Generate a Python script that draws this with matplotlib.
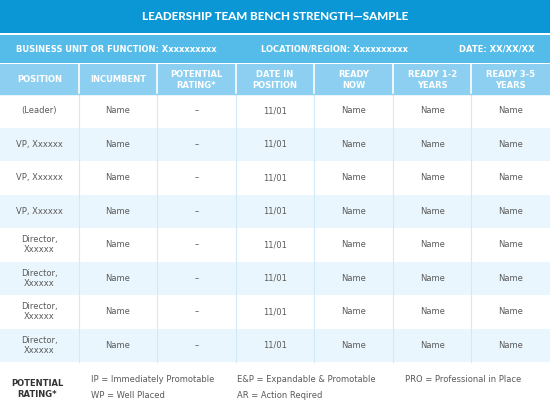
import matplotlib
matplotlib.use("Agg")
import matplotlib.pyplot as plt
from matplotlib.patches import Rectangle

# table content
title = "LEADERSHIP TEAM BENCH STRENGTH\u2014SAMPLE"
info = ["BUSINESS UNIT OR FUNCTION: Xxxxxxxxxx", "LOCATION/REGION: Xxxxxxxxxx", "DATE: XX/XX/XX"]
headers = ["POSITION", "INCUMBENT", "POTENTIAL\nRATING*", "DATE IN\nPOSITION",
           "READY\nNOW", "READY 1-2\nYEARS", "READY 3-5\nYEARS"]
positions = ["(Leader)", "VP, Xxxxxx", "VP, Xxxxxx", "VP, Xxxxxx",
             "Director,\nXxxxxx", "Director,\nXxxxxx", "Director,\nXxxxxx", "Director,\nXxxxxx"]
incumbents = ["Name"] * 8
ratings = ["\u2013"] * 8
dates = ["11/01"] * 8
ready_now = ["Name"] * 8
ready_12 = ["Name"] * 8
ready_35 = ["Name"] * 8
legend_label = "POTENTIAL\nRATING*"
legend_items = [["IP = Immediately Promotable", "WP = Well Placed"],
                ["E&P = Expandable & Promotable", "AR = Action Reqired"],
                ["PRO = Professional in Place", ""]]

W, H = 550, 409
fig = plt.figure(figsize=(5.5, 4.09), dpi=100)
ax = fig.add_axes([0, 0, 1, 1])
ax.set_xlim(0, W)
ax.set_ylim(H, 0)
ax.axis("off")

dark = "#0B97D6"
mid = "#55BCEA"
light = "#8DCFF1"
stripe = "#EAF6FD"
grid = "#D3E9F7"
txt = "#5a5a5a"

# title bar
ax.add_patch(Rectangle((0, 0), W, 33, color=dark, lw=0))
ax.text(W / 2, 17, title, color="white", fontsize=8.4, fontweight="black",
        family="Lato", ha="center", va="center")

# info bar
ax.add_patch(Rectangle((0, 35), W, 28, color=mid, lw=0))
ax.text(16, 49.5, info[0], color="white", fontsize=6.0, fontweight="bold", ha="left", va="center")
ax.text(261, 49.5, info[1], color="white", fontsize=6.0, fontweight="bold", ha="left", va="center")
ax.text(535, 49.5, info[2], color="white", fontsize=6.0, fontweight="bold", ha="right", va="center")

# header row
ncol = len(headers)
cw = W / ncol
hy0, hy1 = 64, 94
ax.add_patch(Rectangle((0, hy0), W, hy1 - hy0, color=light, lw=0))
for i, h in enumerate(headers):
    ax.text(cw * (i + 0.5), (hy0 + hy1) / 2 + 1, h, color="white", fontsize=6,
            fontweight="bold", ha="center", va="center", linespacing=1.2)
for i in range(1, ncol):
    ax.plot([cw * i, cw * i], [hy0, hy1], color="white", lw=1.2)

# data rows
columns = [positions, incumbents, ratings, dates, ready_now, ready_12, ready_35]
nrow = len(positions)
ry0 = 94
rh = (362 - ry0) / nrow
for r in range(nrow):
    y = ry0 + r * rh
    if r % 2 == 1:
        ax.add_patch(Rectangle((0, y), W, rh, color=stripe, lw=0))
    for c, col in enumerate(columns):
        ax.text(cw * (c + 0.5), y + rh / 2, col[r], color=txt, fontsize=6,
                ha="center", va="center", linespacing=1.2)
for i in range(1, ncol):
    ax.plot([cw * i, cw * i], [ry0, 362], color=grid, lw=0.8)
ax.plot([0, W], [ry0, ry0], color=light, lw=1)

# legend
ax.text(37.5, 389, legend_label, color="#333333", fontsize=6, fontweight="bold",
        ha="center", va="center", linespacing=1.3)
lx = [91, 237, 405]
for x, items in zip(lx, legend_items):
    for k, s in enumerate(items):
        ax.text(x, 380 + k * 16, s, color=txt, fontsize=6, ha="left", va="center")

fig.savefig("out.png", dpi=100)
